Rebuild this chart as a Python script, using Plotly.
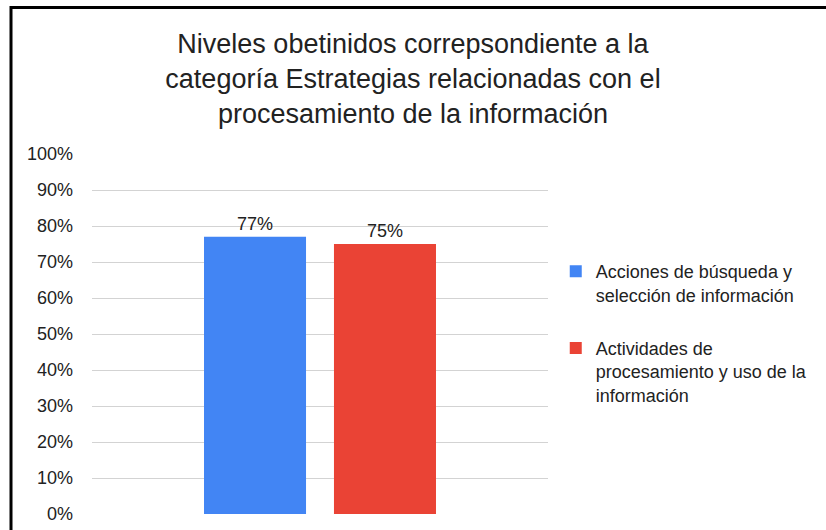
import plotly.graph_objects as go

categories = [""]
series_names = ["Acciones de búsqueda y<br>selección de información",
                "Actividades de<br>procesamiento y uso de la<br>información"]
series_values = [0.77, 0.75]
series_colors = ["#4285F4", "#EA4335"]
tick_vals = [i / 10 for i in range(11)]
tick_text = [f"{i*10}%" for i in range(11)]

title_text = ("Niveles obetinidos correpsondiente a la<br>"
              "categoría Estrategias relacionadas con el<br>"
              "procesamiento de la información")

FONT = "Liberation Sans, Arial, sans-serif"

fig = go.Figure()
for name, val, col in zip(series_names, series_values, series_colors):
    fig.add_trace(go.Bar(
        x=categories, y=[val], name=name, marker_color=col,
        marker_line_width=0, legendgroup=name,
        text=[f"{round(val*100)}%"], textposition="outside",
        textfont=dict(size=18, color="#222222", family=FONT),
        cliponaxis=False,
    ))

W, H = 826, 530
L, T = 92, 154
pw, ph = 456, 360
R, B = W - L - pw, H - T - ph

def px(x):
    return (x - L) / pw

def py(y):
    return (H - B - y) / ph

fig.update_layout(
    width=W, height=H,
    margin=dict(l=L, r=R, t=T, b=B, pad=0, autoexpand=False),
    paper_bgcolor="white", plot_bgcolor="white",
    font=dict(family=FONT, color="#222222"),
    title=dict(text=title_text, x=0.5, xanchor="center",
               y=1 - 53 / H, yanchor="top",
               font=dict(size=27, family=FONT, color="#222222")),
    barmode="group", bargap=0.43, bargroupgap=0.215,
    showlegend=True,
    legend=dict(x=1.017, xanchor="left", y=0.725, yanchor="top",
                font=dict(size=18, family=FONT, color="#222222"),
                tracegroupgap=27, bgcolor="rgba(0,0,0,0)",
                itemwidth=30, valign="top"),
    xaxis=dict(showticklabels=False, showgrid=False, zeroline=False,
               showline=False, ticks="", automargin=False),
    yaxis=dict(range=[0, 1], tickvals=tick_vals, ticktext=tick_text,
               showgrid=True, gridcolor="#d3d3d3", gridwidth=1,
               zeroline=False, showline=False, ticks="",
               ticklabelstandoff=18, automargin=False,
               tickfont=dict(size=18, family=FONT, color="#222222")),
    shapes=[dict(type="rect", xref="paper", yref="paper",
                 x0=px(11), x1=px(850), y0=py(7.5), y1=py(560),
                 line=dict(color="black", width=3), fillcolor="rgba(0,0,0,0)",
                 layer="above")],
)

fig.write_html("out.html",
               config={"displayModeBar": False},
               post_script="document.body.style.margin='0';"
                           "document.body.style.overflow='hidden';")
